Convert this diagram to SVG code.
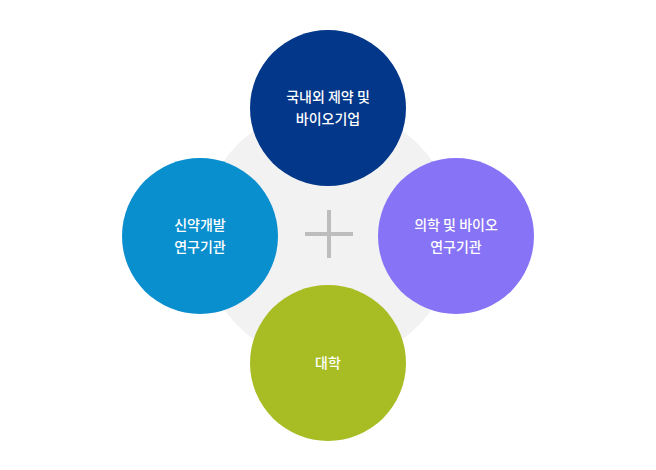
<svg xmlns="http://www.w3.org/2000/svg" width="656" height="470" viewBox="0 0 656 470">
<style>
text{font-family:"Noto Sans CJK KR","Noto Sans",sans-serif;font-size:14px;fill:#fff;text-anchor:middle;font-weight:500}
</style>
<rect width="656" height="470" fill="#fff"/>
<circle cx="328" cy="235" r="128" fill="#f2f2f2"/>
<g id="connectors">
<rect x="305" y="232" width="48" height="4" fill="#bdbdbd"/>
<rect x="327" y="210" width="4" height="48" fill="#bdbdbd"/>
</g>
<g id="top"><circle cx="328" cy="108" r="78" fill="#023789"/>
<text x="328" y="102">국내외 제약 및</text><text x="328" y="124">바이오기업</text></g>
<g id="left"><circle cx="200" cy="236" r="78" fill="#0a8fce"/>
<text x="200" y="230">신약개발</text><text x="200" y="252">연구기관</text></g>
<g id="right"><circle cx="456" cy="236" r="78" fill="#8673f5"/>
<text x="456" y="230">의학 및 바이오</text><text x="456" y="252">연구기관</text></g>
<g id="bottom"><circle cx="328" cy="363" r="78" fill="#a8bd23"/>
<text x="328" y="368">대학</text></g>
</svg>
